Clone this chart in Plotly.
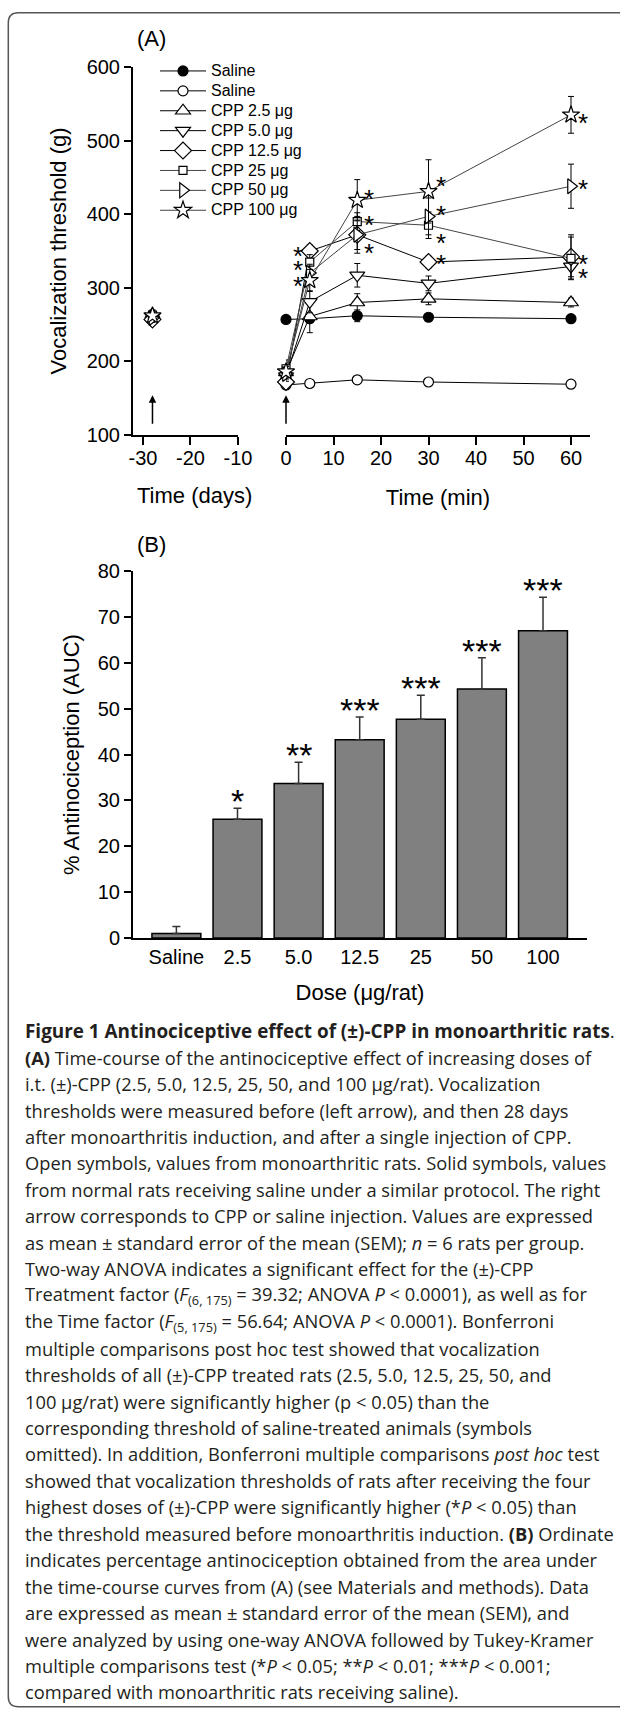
import plotly.graph_objects as go

# Canvas in pixels, converted to paper fractions
W, H = 620, 1710


def fx(px):
    return px / W


def fy(px):
    return 1 - px / H


# Panel A data: vocalization threshold (g), mean and SEM

times_min = [0, 5, 15, 30, 60]
pre_day = [-28]

group_names = ['Saline', 'Saline', 'CPP 2.5 μg', 'CPP 5.0 μg', 'CPP 12.5 μg',
               'CPP 25 μg', 'CPP 50 μg', 'CPP 100 μg']

pre_values = [261, 258, 264, 260, 257, 263, 259, 262]
pre_sem = [5, 5, 6, 5, 6, 5, 6, 5]

saline_normal = [257, 258, 262, 260, 258]
saline_normal_sem = [4, 4, 8, 5, 5]
saline_ma = [168, 170, 175, 172, 169]
saline_ma_sem = [6, 5, 4, 4, 4]
cpp_2_5 = [185, 261, 280, 285, 280]
cpp_2_5_sem = [8, 22, 12, 8, 6]
cpp_5_0 = [180, 281, 317, 306, 329]
cpp_5_0_sem = [8, 15, 16, 10, 14]
cpp_12_5 = [172, 350, 372, 335, 342]
cpp_12_5_sem = [8, 8, 25, 8, 30]
cpp_25 = [190, 335, 390, 385, 340]
cpp_25_sem = [12, 10, 12, 18, 29]
cpp_50 = [183, 320, 372, 397, 438]
cpp_50_sem = [10, 12, 20, 25, 30]
cpp_100 = [186, 310, 419, 431, 535]
cpp_100_sem = [10, 15, 28, 43, 25]

# significance marks in panel A (time, threshold, side of the symbol)
sig_times = [5, 5, 5, 15, 15, 15, 30, 30, 30, 30, 60, 60, 60, 60]
sig_values = [351, 333, 310, 429, 394, 355, 446, 407, 369, 341, 532, 442, 341, 322]
sig_sides = [-1, -1, -1, 1, 1, 1, 1, 1, 1, 1, 1, 1, 1, 1]

# Panel B data: % antinociception (AUC)

doses = ['Saline', '2.5', '5.0', '12.5', '25', '50', '100']
auc_mean = [1.0, 25.9, 33.7, 43.2, 47.7, 54.3, 67.0]
auc_sem = [1.5, 2.4, 4.6, 5.0, 5.2, 6.8, 7.3]
auc_minus = [0, 0, 0, 0, 0, 0, 0]
auc_sig = ['', '*', '**', '***', '***', '***', '***']

caption_lines = [
    "<b>Figure 1 Antinociceptive effect of (±)-CPP in monoarthritic rats</b>.",
    "<b>(A)</b> Time-course of the antinociceptive effect of increasing doses of",
    "i.t. (±)-CPP (2.5, 5.0, 12.5, 25, 50, and 100 μg/rat). Vocalization",
    "thresholds were measured before (left arrow), and then 28 days",
    "after monoarthritis induction, and after a single injection of CPP.",
    "Open symbols, values from monoarthritic rats. Solid symbols, values",
    "from normal rats receiving saline under a similar protocol. The right",
    "arrow corresponds to CPP or saline injection. Values are expressed",
    "as mean ± standard error of the mean (SEM); <i>n</i> = 6 rats per group.",
    "Two-way ANOVA indicates a significant effect for the (±)-CPP",
    "Treatment factor (<i>F</i><sub>(6, 175)</sub> = 39.32; ANOVA <i>P</i> &lt; 0.0001), as well as for",
    "the Time factor (<i>F</i><sub>(5, 175)</sub> = 56.64; ANOVA <i>P</i> &lt; 0.0001). Bonferroni",
    "multiple comparisons post hoc test showed that vocalization",
    "thresholds of all (±)-CPP treated rats (2.5, 5.0, 12.5, 25, 50, and",
    "100 μg/rat) were significantly higher (p &lt; 0.05) than the",
    "corresponding threshold of saline-treated animals (symbols",
    "omitted). In addition, Bonferroni multiple comparisons <i>post hoc</i> test",
    "showed that vocalization thresholds of rats after receiving the four",
    "highest doses of (±)-CPP were significantly higher (*<i>P</i> &lt; 0.05) than",
    "the threshold measured before monoarthritis induction. <b>(B)</b> Ordinate",
    "indicates percentage antinociception obtained from the area under",
    "the time-course curves from (A) (see Materials and methods). Data",
    "are expressed as mean ± standard error of the mean (SEM), and",
    "were analyzed by using one-way ANOVA followed by Tukey-Kramer",
    "multiple comparisons test (*<i>P</i> &lt; 0.05; **<i>P</i> &lt; 0.01; ***<i>P</i> &lt; 0.001;",
    "compared with monoarthritic rats receiving saline).",
]

series_values = [saline_normal, saline_ma, cpp_2_5, cpp_5_0, cpp_12_5, cpp_25, cpp_50, cpp_100]
series_sem = [saline_normal_sem, saline_ma_sem, cpp_2_5_sem, cpp_5_0_sem, cpp_12_5_sem,
              cpp_25_sem, cpp_50_sem, cpp_100_sem]

# Styles

marker_styles = [
    dict(symbol='circle', size=10, color='black'),
    dict(symbol='circle', size=10, color='white'),
    dict(symbol='triangle-up', size=13, color='white'),
    dict(symbol='triangle-down', size=13, color='white'),
    dict(symbol='diamond', size=13, color='white'),
    dict(symbol='square', size=8, color='white'),
    dict(symbol='triangle-right', size=13, color='white'),
    dict(symbol='star', size=13, color='white'),
]
line_colors = ['black'] * 5 + ['#444444'] * 3

AXIS_FONT = 'Liberation Sans, Arial, sans-serif'
CAPTION_FONT = 'Open Sans, Noto Sans, sans-serif'
LEGEND_TEXT = '<span style="font-size:16px">{}</span>'

fig = go.Figure()

for i, name in enumerate(group_names):
    style = marker_styles[i]
    marker = dict(symbol=style['symbol'], size=style['size'], color=style['color'],
                  line=dict(color='black', width=1.2))
    err = dict(type='data', array=series_sem[i], color='black', thickness=1, width=3)

    fig.add_trace(go.Scatter(
        x=times_min, y=series_values[i], error_y=err,
        mode='lines+markers', name=LEGEND_TEXT.format(name), legendgroup=str(i),
        line=dict(color=line_colors[i], width=1), marker=marker,
        xaxis='x2', yaxis='y', cliponaxis=False,
    ))
    fig.add_trace(go.Scatter(
        x=pre_day, y=[pre_values[i]],
        error_y=dict(type='data', array=[pre_sem[i]], color='black', thickness=1, width=3),
        mode='markers', name=name, legendgroup=str(i), showlegend=False,
        marker=marker, xaxis='x', yaxis='y', cliponaxis=False,
    ))

fig.add_trace(go.Bar(
    x=doses, y=auc_mean, width=0.8,
    error_y=dict(type='data', symmetric=False, array=auc_sem, arrayminus=auc_minus,
                 color='#333333', thickness=1.5, width=4),
    marker=dict(color='#808080', line=dict(color='black', width=1.5)),
    xaxis='x3', yaxis='y3', showlegend=False,
))

axis_common = dict(
    showline=True, linewidth=2, linecolor='black', mirror=False,
    showgrid=False, zeroline=False, automargin=False,
    ticks='outside', ticklen=7, tickwidth=2, tickcolor='black',
    tickfont=dict(family=AXIS_FONT, size=20, color='black'),
    title_font=dict(family=AXIS_FONT, size=22, color='black'),
)

day_ticks = [-30, -20, -10]

fig.update_layout(
    width=W, height=H,
    margin=dict(l=0, r=0, t=0, b=0, autoexpand=False),
    paper_bgcolor='white', plot_bgcolor='rgba(0,0,0,0)',
    font=dict(family=AXIS_FONT, color='black'),
    showlegend=True,
    legend=dict(
        x=fx(155), y=fy(56), xanchor='left', yanchor='top',
        font=dict(family=AXIS_FONT, size=13, color='black'),
        bgcolor='rgba(0,0,0,0)', itemwidth=46, tracegroupgap=0,
    ),
    xaxis=dict(axis_common, domain=[fx(133), fx(238)], range=[-32.1, -10],
               tickvals=day_ticks, ticktext=[str(d) for d in day_ticks],
               anchor='y', ticklen=8, ticklabelstandoff=-4),
    xaxis2=dict(axis_common, domain=[fx(286), fx(590)], range=[0, 64],
                tickvals=[0, 10, 20, 30, 40, 50, 60], anchor='y', ticklen=8,
                ticklabelstandoff=-4,
                title=dict(text='Time (min)', standoff=22)),
    yaxis=dict(axis_common, domain=[fy(435), fy(67)], range=[100, 600],
               tickvals=[100, 200, 300, 400, 500, 600], anchor='x',
               title=dict(text='Vocalization threshold (g)', standoff=14)),
    xaxis3=dict(axis_common, domain=[fx(133), fx(587)], range=[-0.71, 6.72],
                type='category', anchor='y3', ticks='',
                title=dict(text='Dose (μg/rat)', standoff=18)),
    yaxis3=dict(axis_common, domain=[fy(938), fy(571)], range=[0, 80],
                tickvals=[0, 10, 20, 30, 40, 50, 60, 70, 80], anchor='x3',
                title=dict(text='% Antinociception (AUC)', standoff=12)),
)

# title of the day axis, set a little right of the short axis centre
fig.add_annotation(x=fx(194), y=fy(495), xref='paper', yref='paper', text='Time (days)',
                   xanchor='center', yanchor='middle', showarrow=False,
                   font=dict(family=AXIS_FONT, size=22, color='black'))

# Arrows for measurement (left) and injection (right)
for ax_ref, t in [('x', pre_day[0]), ('x2', times_min[0])]:
    fig.add_annotation(x=t, y=154, xref=ax_ref, yref='y', text='',
                       showarrow=True, ax=0, ay=30, arrowhead=2, arrowsize=1,
                       arrowwidth=1.5, arrowcolor='black', standoff=0)

# Significance asterisks, panel A
for t, v, side in zip(sig_times, sig_values, sig_sides):
    fig.add_annotation(x=t, y=v, xref='x2', yref='y', text='*', showarrow=False,
                       xshift=12 * side, yshift=-6,
                       font=dict(family=AXIS_FONT, size=26, color='black'))

# Significance asterisks, panel B (category index on the x axis)
for k, (m, s, lab) in enumerate(zip(auc_mean, auc_sem, auc_sig)):
    if lab:
        fig.add_annotation(x=k, y=m + s, xref='x3', yref='y3', text=lab, showarrow=False,
                           yanchor='middle', yshift=7,
                           font=dict(family=AXIS_FONT, size=34, color='black'))

# Panel labels
fig.add_annotation(x=fx(135), y=fy(38), xref='paper', yref='paper', text='(A)',
                   xanchor='left', yanchor='middle', showarrow=False,
                   font=dict(family=AXIS_FONT, size=22, color='black'))
fig.add_annotation(x=fx(135), y=fy(545), xref='paper', yref='paper', text='(B)',
                   xanchor='left', yanchor='middle', showarrow=False,
                   font=dict(family=AXIS_FONT, size=22, color='black'))

# Caption (bold first line set slightly larger to keep its width)
for k, line in enumerate(caption_lines):
    fig.add_annotation(x=fx(23), y=fy(1030.7 + k * 26.45), xref='paper', yref='paper',
                       text=line, xanchor='left', yanchor='middle', showarrow=False,
                       font=dict(family=CAPTION_FONT, size=18.9 if k == 0 else 18.3,
                                 color='#231f20'))

# Rounded frame open on the right
x0, y0, y1, r = 8.3, 12.7, 1706.7, 10
frame = (f"M {fx(W + 5)},{fy(y0)} L {fx(x0 + r)},{fy(y0)} "
         f"Q {fx(x0)},{fy(y0)} {fx(x0)},{fy(y0 + r)} "
         f"L {fx(x0)},{fy(y1 - r)} Q {fx(x0)},{fy(y1)} {fx(x0 + r)},{fy(y1)} "
         f"L {fx(W + 5)},{fy(y1)}")
fig.add_shape(type='path', path=frame, xref='paper', yref='paper',
              line=dict(color='#555555', width=1.5))

# page body margin would push the 620x1710 figure off the window
fig.write_html("out.html", config={'displayModeBar': False},
               post_script="document.body.style.margin = '0';")
